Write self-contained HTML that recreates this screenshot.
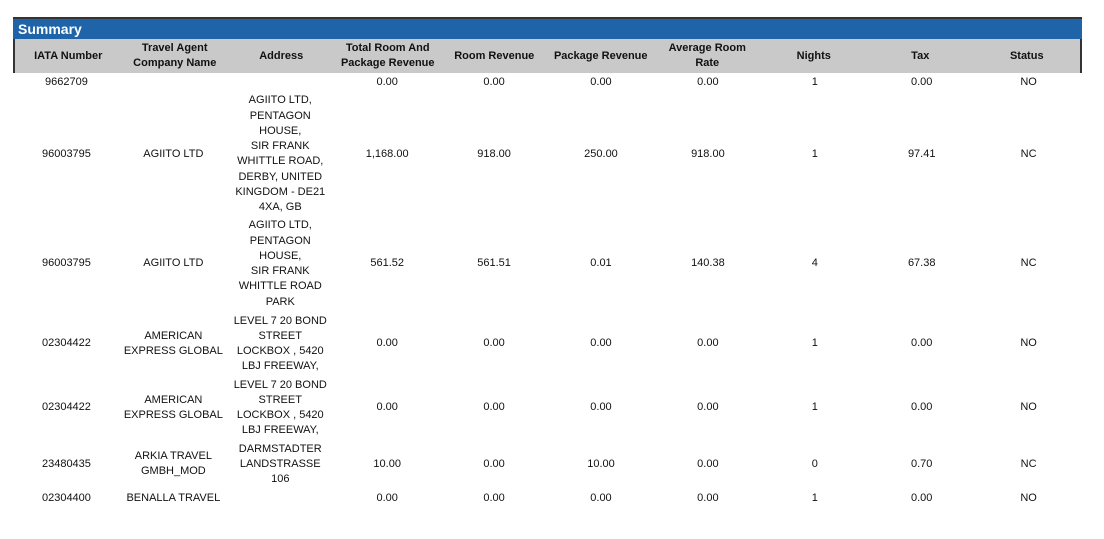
<!DOCTYPE html>
<html><head><style>
body{margin:0;width:1104px;height:539px;background:#fff;font-family:"Liberation Sans",Arial,sans-serif;position:relative;overflow:hidden}
.bar{position:absolute;left:13px;top:17px;width:1069px;height:22px;background:#1f64a8;border-top:2px solid #333;box-sizing:border-box;color:#fff;font-weight:bold;font-size:14px;line-height:20px;padding-left:5px}
.hdr{position:absolute;left:13px;top:39px;width:1069px;height:34px;background:#c9c9c9;border-left:2px solid #333;border-right:2px solid #333;box-sizing:border-box;display:flex}
.hdr div{flex:1;display:flex;align-items:center;justify-content:center;text-align:center;font-weight:bold;font-size:11px;line-height:15px;color:#111}
.row{position:absolute;left:13px;width:1069px;display:flex}
.row div{flex:1;display:flex;align-items:center;justify-content:center;text-align:center;font-size:11px;line-height:15.2px;color:#111}
</style></head><body>
<div class="bar">Summary</div>
<div class="hdr"><div>IATA Number</div><div>Travel Agent<br>Company Name</div><div>Address</div><div>Total Room And<br>Package Revenue</div><div>Room Revenue</div><div>Package Revenue</div><div>Average Room<br>Rate</div><div>Nights</div><div>Tax</div><div>Status</div></div>

<div class="row" style="top:74.5px;height:15.2px"><div>9662709</div><div></div><div></div><div>0.00</div><div>0.00</div><div>0.00</div><div>0.00</div><div>1</div><div>0.00</div><div>NO</div></div>

<div class="row" style="top:93.5px;height:121.6px"><div>96003795</div><div>AGIITO LTD</div><div>AGIITO LTD,<br>PENTAGON<br>HOUSE,<br>SIR FRANK<br>WHITTLE ROAD,<br>DERBY, UNITED<br>KINGDOM - DE21<br>4XA, GB</div><div>1,168.00</div><div>918.00</div><div>250.00</div><div>918.00</div><div>1</div><div>97.41</div><div>NC</div></div>

<div class="row" style="top:218.5px;height:91.2px"><div>96003795</div><div>AGIITO LTD</div><div>AGIITO LTD,<br>PENTAGON<br>HOUSE,<br>SIR FRANK<br>WHITTLE ROAD<br>PARK</div><div>561.52</div><div>561.51</div><div>0.01</div><div>140.38</div><div>4</div><div>67.38</div><div>NC</div></div>

<div class="row" style="top:313.5px;height:60.8px"><div>02304422</div><div>AMERICAN<br>EXPRESS GLOBAL</div><div>LEVEL 7 20 BOND<br>STREET<br>LOCKBOX , 5420<br>LBJ FREEWAY,</div><div>0.00</div><div>0.00</div><div>0.00</div><div>0.00</div><div>1</div><div>0.00</div><div>NO</div></div>

<div class="row" style="top:377.5px;height:60.8px"><div>02304422</div><div>AMERICAN<br>EXPRESS GLOBAL</div><div>LEVEL 7 20 BOND<br>STREET<br>LOCKBOX , 5420<br>LBJ FREEWAY,</div><div>0.00</div><div>0.00</div><div>0.00</div><div>0.00</div><div>1</div><div>0.00</div><div>NO</div></div>

<div class="row" style="top:441.5px;height:45.6px"><div>23480435</div><div>ARKIA TRAVEL<br>GMBH_MOD</div><div>DARMSTADTER<br>LANDSTRASSE<br>106</div><div>10.00</div><div>0.00</div><div>10.00</div><div>0.00</div><div>0</div><div>0.70</div><div>NC</div></div>

<div class="row" style="top:490.5px;height:15.2px"><div>02304400</div><div>BENALLA TRAVEL</div><div></div><div>0.00</div><div>0.00</div><div>0.00</div><div>0.00</div><div>1</div><div>0.00</div><div>NO</div></div>
</body></html>
